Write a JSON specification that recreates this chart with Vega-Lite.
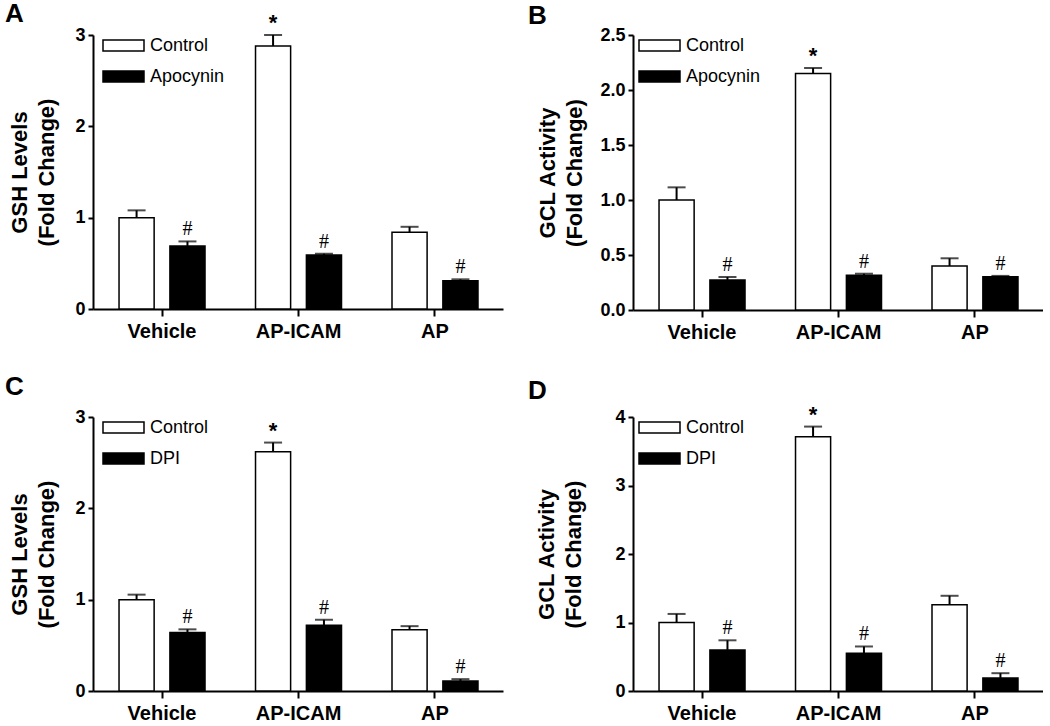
{
  "$schema": "https://vega.github.io/schema/vega-lite/v6.json",
  "padding": {"left": 5, "top": 1, "right": 0, "bottom": 0},
  "background": "white",
  "datasets": {
    "A": [
      {"group": "Vehicle", "treatment": "Control", "value": 1.0, "upper": 1.08, "sig": ""},
      {"group": "Vehicle", "treatment": "Apocynin", "value": 0.69, "upper": 0.74, "sig": "#"},
      {"group": "AP-ICAM", "treatment": "Control", "value": 2.88, "upper": 3.0, "sig": "*"},
      {"group": "AP-ICAM", "treatment": "Apocynin", "value": 0.59, "upper": 0.605, "sig": "#"},
      {"group": "AP", "treatment": "Control", "value": 0.84, "upper": 0.9, "sig": ""},
      {"group": "AP", "treatment": "Apocynin", "value": 0.31, "upper": 0.325, "sig": "#"}
    ],
    "B": [
      {"group": "Vehicle", "treatment": "Control", "value": 1.0, "upper": 1.115, "sig": ""},
      {"group": "Vehicle", "treatment": "Apocynin", "value": 0.273, "upper": 0.3, "sig": "#"},
      {"group": "AP-ICAM", "treatment": "Control", "value": 2.15, "upper": 2.2, "sig": "*"},
      {"group": "AP-ICAM", "treatment": "Apocynin", "value": 0.315, "upper": 0.33, "sig": "#"},
      {"group": "AP", "treatment": "Control", "value": 0.4, "upper": 0.47, "sig": ""},
      {"group": "AP", "treatment": "Apocynin", "value": 0.303, "upper": 0.31, "sig": "#"}
    ],
    "C": [
      {"group": "Vehicle", "treatment": "Control", "value": 1.0, "upper": 1.055, "sig": ""},
      {"group": "Vehicle", "treatment": "DPI", "value": 0.64, "upper": 0.675, "sig": "#"},
      {"group": "AP-ICAM", "treatment": "Control", "value": 2.62, "upper": 2.72, "sig": "*"},
      {"group": "AP-ICAM", "treatment": "DPI", "value": 0.72, "upper": 0.78, "sig": "#"},
      {"group": "AP", "treatment": "Control", "value": 0.67, "upper": 0.71, "sig": ""},
      {"group": "AP", "treatment": "DPI", "value": 0.11, "upper": 0.13, "sig": "#"}
    ],
    "D": [
      {"group": "Vehicle", "treatment": "Control", "value": 1.0, "upper": 1.125, "sig": ""},
      {"group": "Vehicle", "treatment": "DPI", "value": 0.6, "upper": 0.74, "sig": "#"},
      {"group": "AP-ICAM", "treatment": "Control", "value": 3.71, "upper": 3.86, "sig": "*"},
      {"group": "AP-ICAM", "treatment": "DPI", "value": 0.55, "upper": 0.65, "sig": "#"},
      {"group": "AP", "treatment": "Control", "value": 1.26, "upper": 1.39, "sig": ""},
      {"group": "AP", "treatment": "DPI", "value": 0.19, "upper": 0.26, "sig": "#"}
    ]
  },
  "resolve": {"scale": {"fill": "independent", "xOffset": "independent", "x": "independent", "y": "independent"}, "legend": {"fill": "independent"}},
  "spacing": 32,
  "vconcat": [
    {
      "resolve": {"scale": {"fill": "independent", "xOffset": "independent", "x": "independent", "y": "independent"}, "legend": {"fill": "independent"}},
      "spacing": 25,
      "hconcat": [
        {
          "width": 410, "height": 274,
          "title": {"text": "A", "dx": -88, "offset": -15},
          "data": {"name": "A"},
          "encoding": {
            "x": {"field": "group", "type": "nominal", "sort": ["Vehicle", "AP-ICAM", "AP"], "scale": {"paddingInner": 0.37, "paddingOuter": 0.187, "align": 0.51}, "axis": {"title": null}},
            "xOffset": {"field": "treatment", "type": "nominal", "sort": ["Control", "Apocynin"], "scale": {"paddingInner": 0.31}}
          },
          "layer": [
            {
              "mark": {"type": "bar", "stroke": "black", "strokeWidth": 1.5},
              "encoding": {
                "y": {"field": "value", "type": "quantitative", "title": ["GSH Levels", "(Fold Change)"], "scale": {"domain": [0, 3], "nice": false}, "axis": {"values": [0, 1, 2, 3], "format": "d", "titlePadding": 16}},
                "fill": {"field": "treatment", "type": "nominal", "sort": ["Control", "Apocynin"], "scale": {"domain": ["Control", "Apocynin"], "range": ["white", "black"]}, "legend": {"legendX": 9, "legendY": -11}}
              }
            },
            {"mark": {"type": "rule", "strokeWidth": 2, "color": "black"}, "encoding": {"y": {"field": "value", "type": "quantitative", "title": ["GSH Levels", "(Fold Change)"]}, "y2": {"field": "upper"}}},
            {"mark": {"type": "tick", "orient": "horizontal", "size": 18, "thickness": 2, "color": "black"}, "encoding": {"y": {"field": "upper", "type": "quantitative", "title": ["GSH Levels", "(Fold Change)"]}}},
            {"transform": [{"filter": "datum.sig == '*'"}], "mark": {"type": "text", "font": "Liberation Sans", "fontWeight": "bold", "fontSize": 22, "baseline": "alphabetic", "dy": -5, "color": "black"}, "encoding": {"y": {"field": "upper", "type": "quantitative", "title": ["GSH Levels", "(Fold Change)"]}, "text": {"field": "sig"}}},
            {"transform": [{"filter": "datum.sig == '#'"}], "mark": {"type": "text", "font": "Liberation Serif", "fontSize": 20, "baseline": "alphabetic", "dy": -6, "color": "black"}, "encoding": {"y": {"field": "upper", "type": "quantitative", "title": ["GSH Levels", "(Fold Change)"]}, "text": {"field": "sig"}}}
          ]
        },
        {
          "width": 410, "height": 275,
          "title": {"text": "B", "dx": -105, "offset": -5},
          "data": {"name": "B"},
          "encoding": {
            "x": {"field": "group", "type": "nominal", "sort": ["Vehicle", "AP-ICAM", "AP"], "scale": {"paddingInner": 0.37, "paddingOuter": 0.187, "align": 0.51}, "axis": {"title": null}},
            "xOffset": {"field": "treatment", "type": "nominal", "sort": ["Control", "Apocynin"], "scale": {"paddingInner": 0.31}}
          },
          "layer": [
            {
              "mark": {"type": "bar", "stroke": "black", "strokeWidth": 1.5},
              "encoding": {
                "y": {"field": "value", "type": "quantitative", "title": ["GCL Activity", "(Fold Change)"], "scale": {"domain": [0, 2.5], "nice": false}, "axis": {"values": [0, 0.5, 1, 1.5, 2, 2.5], "format": ".1f", "titlePadding": 13}},
                "fill": {"field": "treatment", "type": "nominal", "sort": ["Control", "Apocynin"], "scale": {"domain": ["Control", "Apocynin"], "range": ["white", "black"]}, "legend": {"legendX": 5, "legendY": -11}}
              }
            },
            {"mark": {"type": "rule", "strokeWidth": 2, "color": "black"}, "encoding": {"y": {"field": "value", "type": "quantitative", "title": ["GCL Activity", "(Fold Change)"]}, "y2": {"field": "upper"}}},
            {"mark": {"type": "tick", "orient": "horizontal", "size": 18, "thickness": 2, "color": "black"}, "encoding": {"y": {"field": "upper", "type": "quantitative", "title": ["GCL Activity", "(Fold Change)"]}}},
            {"transform": [{"filter": "datum.sig == '*'"}], "mark": {"type": "text", "font": "Liberation Sans", "fontWeight": "bold", "fontSize": 22, "baseline": "alphabetic", "dy": -5, "color": "black"}, "encoding": {"y": {"field": "upper", "type": "quantitative", "title": ["GCL Activity", "(Fold Change)"]}, "text": {"field": "sig"}}},
            {"transform": [{"filter": "datum.sig == '#'"}], "mark": {"type": "text", "font": "Liberation Serif", "fontSize": 20, "baseline": "alphabetic", "dy": -6, "color": "black"}, "encoding": {"y": {"field": "upper", "type": "quantitative", "title": ["GCL Activity", "(Fold Change)"]}, "text": {"field": "sig"}}}
          ]
        }
      ]
    },
    {
      "resolve": {"scale": {"fill": "independent", "xOffset": "independent", "x": "independent", "y": "independent"}, "legend": {"fill": "independent"}},
      "spacing": 25,
      "hconcat": [
        {
          "width": 410, "height": 274,
          "title": {"text": "C", "dx": -88, "offset": 6},
          "data": {"name": "C"},
          "encoding": {
            "x": {"field": "group", "type": "nominal", "sort": ["Vehicle", "AP-ICAM", "AP"], "scale": {"paddingInner": 0.37, "paddingOuter": 0.187, "align": 0.51}, "axis": {"title": null}},
            "xOffset": {"field": "treatment", "type": "nominal", "sort": ["Control", "DPI"], "scale": {"paddingInner": 0.31}}
          },
          "layer": [
            {
              "mark": {"type": "bar", "stroke": "black", "strokeWidth": 1.5},
              "encoding": {
                "y": {"field": "value", "type": "quantitative", "title": ["GSH Levels", "(Fold Change)"], "scale": {"domain": [0, 3], "nice": false}, "axis": {"values": [0, 1, 2, 3], "format": "d", "titlePadding": 16}},
                "fill": {"field": "treatment", "type": "nominal", "sort": ["Control", "DPI"], "scale": {"domain": ["Control", "DPI"], "range": ["white", "black"]}, "legend": {"legendX": 9, "legendY": -11}}
              }
            },
            {"mark": {"type": "rule", "strokeWidth": 2, "color": "black"}, "encoding": {"y": {"field": "value", "type": "quantitative", "title": ["GSH Levels", "(Fold Change)"]}, "y2": {"field": "upper"}}},
            {"mark": {"type": "tick", "orient": "horizontal", "size": 18, "thickness": 2, "color": "black"}, "encoding": {"y": {"field": "upper", "type": "quantitative", "title": ["GSH Levels", "(Fold Change)"]}}},
            {"transform": [{"filter": "datum.sig == '*'"}], "mark": {"type": "text", "font": "Liberation Sans", "fontWeight": "bold", "fontSize": 22, "baseline": "alphabetic", "dy": -5, "color": "black"}, "encoding": {"y": {"field": "upper", "type": "quantitative", "title": ["GSH Levels", "(Fold Change)"]}, "text": {"field": "sig"}}},
            {"transform": [{"filter": "datum.sig == '#'"}], "mark": {"type": "text", "font": "Liberation Serif", "fontSize": 20, "baseline": "alphabetic", "dy": -6, "color": "black"}, "encoding": {"y": {"field": "upper", "type": "quantitative", "title": ["GSH Levels", "(Fold Change)"]}, "text": {"field": "sig"}}}
          ]
        },
        {
          "width": 410, "height": 274,
          "title": {"text": "D", "dx": -105, "offset": 0},
          "data": {"name": "D"},
          "encoding": {
            "x": {"field": "group", "type": "nominal", "sort": ["Vehicle", "AP-ICAM", "AP"], "scale": {"paddingInner": 0.37, "paddingOuter": 0.187, "align": 0.51}, "axis": {"title": null}},
            "xOffset": {"field": "treatment", "type": "nominal", "sort": ["Control", "DPI"], "scale": {"paddingInner": 0.31}}
          },
          "layer": [
            {
              "mark": {"type": "bar", "stroke": "black", "strokeWidth": 1.5},
              "encoding": {
                "y": {"field": "value", "type": "quantitative", "title": ["GCL Activity", "(Fold Change)"], "scale": {"domain": [0, 4], "nice": false}, "axis": {"values": [0, 1, 2, 3, 4], "format": "d", "titlePadding": 29}},
                "fill": {"field": "treatment", "type": "nominal", "sort": ["Control", "DPI"], "scale": {"domain": ["Control", "DPI"], "range": ["white", "black"]}, "legend": {"legendX": 5, "legendY": -11}}
              }
            },
            {"mark": {"type": "rule", "strokeWidth": 2, "color": "black"}, "encoding": {"y": {"field": "value", "type": "quantitative", "title": ["GCL Activity", "(Fold Change)"]}, "y2": {"field": "upper"}}},
            {"mark": {"type": "tick", "orient": "horizontal", "size": 18, "thickness": 2, "color": "black"}, "encoding": {"y": {"field": "upper", "type": "quantitative", "title": ["GCL Activity", "(Fold Change)"]}}},
            {"transform": [{"filter": "datum.sig == '*'"}], "mark": {"type": "text", "font": "Liberation Sans", "fontWeight": "bold", "fontSize": 22, "baseline": "alphabetic", "dy": -5, "color": "black"}, "encoding": {"y": {"field": "upper", "type": "quantitative", "title": ["GCL Activity", "(Fold Change)"]}, "text": {"field": "sig"}}},
            {"transform": [{"filter": "datum.sig == '#'"}], "mark": {"type": "text", "font": "Liberation Serif", "fontSize": 20, "baseline": "alphabetic", "dy": -6, "color": "black"}, "encoding": {"y": {"field": "upper", "type": "quantitative", "title": ["GCL Activity", "(Fold Change)"]}, "text": {"field": "sig"}}}
          ]
        }
      ]
    }
  ],
  "config": {
    "font": "Liberation Sans",
    "view": {"stroke": null},
    "title": {"fontSize": 26, "fontWeight": "bold", "font": "Liberation Sans", "anchor": "start", "frame": "group", "color": "black"},
    "axis": {"domainColor": "black", "domainWidth": 2, "tickColor": "black", "tickWidth": 2, "labelColor": "black", "labelFont": "Liberation Sans", "labelFontWeight": "bold", "grid": false, "titleColor": "black", "titleFont": "Liberation Sans", "titleFontWeight": "bold"},
    "axisX": {"tickSize": 7, "labelFontSize": 20, "labelPadding": 5, "labelAngle": 0},
    "axisY": {"tickSize": 5, "labelFontSize": 18, "labelPadding": 3, "titleFontSize": 22, "titleLineHeight": 27, "titlePadding": 12},
    "legend": {"orient": "none", "title": null, "symbolType": "M-1,-0.27H1V0.27H-1Z", "symbolSize": 1681, "symbolStrokeColor": "black", "symbolStrokeWidth": 1.5, "labelFontSize": 18, "labelFont": "Liberation Sans", "labelColor": "black", "rowPadding": -10, "labelOffset": 5, "padding": 0}
  }
}
